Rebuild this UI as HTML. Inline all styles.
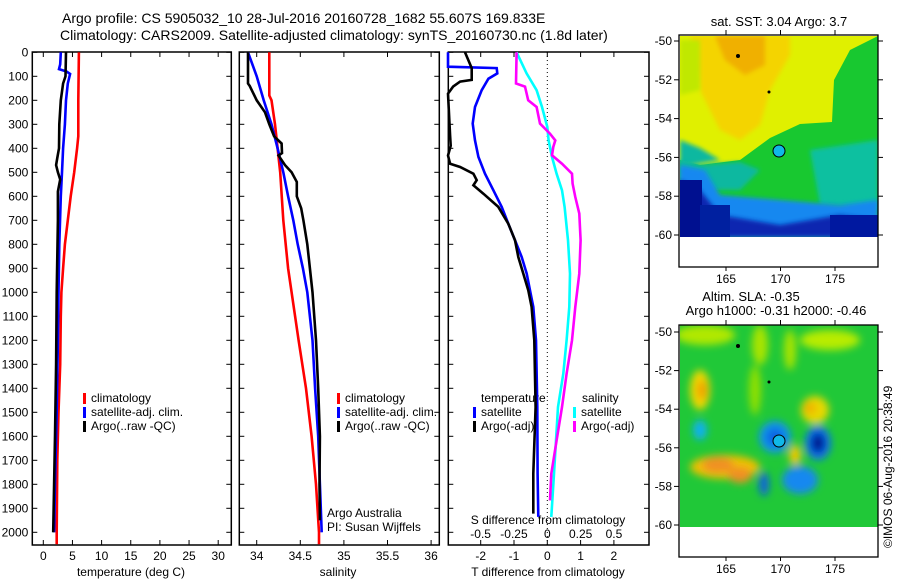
<!DOCTYPE html>
<html><head><meta charset="utf-8"><style>
html,body{margin:0;padding:0;background:#fff;}
svg{display:block;font-family:"Liberation Sans",sans-serif;}
text{font-size:12px;fill:#000;}
</style></head><body>
<svg id="chart" width="900" height="580" viewBox="0 0 900 580">
<defs>
<filter id="blur" x="-20%" y="-20%" width="140%" height="140%"><feGaussianBlur stdDeviation="4"/></filter>
<filter id="blur2" x="-20%" y="-20%" width="140%" height="140%"><feGaussianBlur stdDeviation="2"/></filter>
<clipPath id="c1"><rect x="680" y="36" width="198" height="201"/></clipPath>
<clipPath id="c2"><rect x="680" y="325" width="198" height="202"/></clipPath>
</defs>
<text x="62" y="23" style="font-size:14px">Argo profile: CS 5905032_10 28-Jul-2016 20160728_1682 55.607S 169.833E</text>
<text x="60" y="40" style="font-size:14px">Climatology: CARS2009. Satellite-adjusted climatology: synTS_20160730.nc (1.8d later)</text>
<g id="plots"></g>

<!-- SST map -->
<g>
<text x="779" y="26" text-anchor="middle" style="font-size:13px">sat. SST: 3.04  Argo: 3.7</text>
<g clip-path="url(#c1)">
<rect x="680" y="36" width="198" height="201" fill="#e0f000"/>
<polygon points="690,36 790,36 790,55 770,90 760,125 740,140 720,130 700,90 695,60" fill="#f4d400" filter="url(#blur2)"/>
<polygon points="715,36 765,36 765,65 745,75 725,60" fill="#f0b000" filter="url(#blur2)"/>
<polygon points="680,40 700,40 700,90 680,95" fill="#c0e800" filter="url(#blur2)"/>
<polygon points="878,36 878,237 680,237 680,160 700,165 740,160 770,138 800,124 832,122 834,80 850,50" fill="#18c830"/>
<polygon points="680,140 700,148 720,160 690,165 680,165" fill="#10b8a0" filter="url(#blur2)"/>
<polygon points="680,160 700,165 740,162 760,170 740,190 700,190 680,195" fill="#10b8a0" filter="url(#blur2)"/>
<polygon points="810,150 878,140 878,210 820,205" fill="#10c0a0" filter="url(#blur2)"/>
<polygon points="680,165 705,170 720,195 780,200 840,205 878,200 878,237 680,237" fill="#1488f0" filter="url(#blur2)"/>
<polygon points="680,180 700,190 720,215 780,225 810,220 840,215 878,220 878,237 680,237" fill="#0828b0" filter="url(#blur2)"/>
<rect x="680" y="180" width="22" height="57" fill="#001090"/>
<rect x="700" y="205" width="30" height="32" fill="#0020a0"/>
<rect x="830" y="215" width="48" height="22" fill="#0018a0"/>
</g>
<circle cx="779" cy="151" r="6" fill="#10b8e8" stroke="#000" stroke-width="1"/>
<circle cx="769" cy="92" r="1.5" fill="#000"/>
<circle cx="738" cy="56" r="2" fill="#000"/>
</g>
<g id="map1axes"></g>

<!-- SLA map -->
<g>
<text x="751" y="301" text-anchor="middle" style="font-size:13px">Altim. SLA: -0.35</text>
<text x="776" y="315" text-anchor="middle" style="font-size:13px">Argo h1000: -0.31 h2000: -0.46</text>
<g clip-path="url(#c2)">
<rect x="680" y="325" width="198" height="202" fill="#20c838"/>
<g filter="url(#blur)">
<ellipse cx="705" cy="335" rx="30" ry="10" fill="#b0e800"/>
<ellipse cx="760" cy="345" rx="8" ry="20" fill="#a8e400"/>
<ellipse cx="790" cy="350" rx="6" ry="20" fill="#a8e400"/>
<ellipse cx="830" cy="340" rx="30" ry="10" fill="#b8ec00"/>
<ellipse cx="755" cy="390" rx="6" ry="25" fill="#90e000"/>
<ellipse cx="700" cy="390" rx="10" ry="20" fill="#f0d800"/>
<ellipse cx="702" cy="390" rx="5" ry="10" fill="#f0a000"/>
<ellipse cx="815" cy="410" rx="14" ry="14" fill="#e8d800"/>
<ellipse cx="810" cy="408" rx="6" ry="6" fill="#f0b000"/>
<ellipse cx="700" cy="430" rx="7" ry="10" fill="#10b0f0"/>
<ellipse cx="725" cy="467" rx="35" ry="12" fill="#f0c000"/>
<ellipse cx="718" cy="465" rx="16" ry="8" fill="#f09020"/>
<ellipse cx="740" cy="475" rx="12" ry="8" fill="#f09020"/>
<ellipse cx="775" cy="437" rx="16" ry="16" fill="#1090f0"/>
<ellipse cx="775" cy="437" rx="8" ry="8" fill="#1060e0"/>
<ellipse cx="818" cy="443" rx="13" ry="17" fill="#1070f0"/>
<ellipse cx="818" cy="443" rx="7" ry="10" fill="#001890"/>
<ellipse cx="800" cy="480" rx="18" ry="14" fill="#1488f0"/>
<ellipse cx="764" cy="484" rx="5" ry="12" fill="#1060e0"/>
<ellipse cx="795" cy="455" rx="6" ry="10" fill="#f0c800"/>
</g>
</g>
<circle cx="779" cy="441" r="6" fill="#10b8e8" stroke="#000" stroke-width="1"/>
<circle cx="769" cy="382" r="1.5" fill="#000"/>
<circle cx="738" cy="346" r="2" fill="#000"/>
<text transform="translate(892,548) rotate(-90)" style="font-size:12px">©IMOS 06-Aug-2016 20:38:49</text>
</g>
<g id="map2axes"></g>
</svg>
<script>
// ---- data ----
const tempDepth = [0,200,350,400,500,600,700,800,900,1000,1100,1300,1500,1700,2000,2050];
const tempClim  = [6.1,6.0,6.0,5.8,5.3,4.7,4.2,3.7,3.4,3.1,3.0,2.9,2.6,2.4,2.3,2.3];
const tempSatDepth = [0,50,70,80,90,130,200,300,400,500,600,800,1000,1200,1500,1800,2000];
const tempSat      = [3.0,2.9,2.7,4.0,4.6,4.2,3.9,3.7,3.4,3.2,3.0,2.75,2.6,2.5,2.3,2.0,1.85];
const tempArgoDepth = [0,100,130,200,300,400,440,470,500,530,580,700,1000,1300,1600,1800,2000];
const tempArgo      = [3.9,3.8,3.4,3.0,2.75,2.7,2.4,2.2,2.5,2.9,2.5,2.5,2.3,2.2,2.0,1.85,1.7];

const salClimDepth = [0,180,200,300,400,500,700,900,1000,1200,1400,1600,1800,2000,2050];
const salClim      = [34.145,34.145,34.17,34.21,34.24,34.27,34.305,34.36,34.40,34.48,34.565,34.63,34.68,34.715,34.715];
const salSatDepth = [0,100,200,300,400,500,600,700,800,900,1000,1200,1400,1600,1800,2000];
const salSat      = [33.90,34.0,34.08,34.17,34.24,34.305,34.36,34.42,34.47,34.53,34.58,34.64,34.67,34.705,34.725,34.745];
const salArgoDepth = [0,130,140,200,250,300,350,380,420,430,470,500,540,600,650,700,800,900,1000,1200,1400,1600,1800,1950];
const salArgo      = [33.90,33.90,33.92,34.0,34.095,34.145,34.2,34.285,34.29,34.25,34.325,34.40,34.46,34.46,34.51,34.535,34.58,34.61,34.64,34.68,34.705,34.725,34.72,34.725];

const dTSatDepth = [0,60,66,88,110,158,228,297,367,436,506,575,644,714,783,853,922,992,1061,1200,1478,1756,1936];
const dTSat      = [-3.2,-3.2,-1.52,-1.5,-1.77,-1.97,-2.17,-2.24,-2.17,-2.07,-1.87,-1.62,-1.37,-1.17,-0.97,-0.77,-0.62,-0.52,-0.42,-0.34,-0.30,-0.29,-0.27];
const dTArgoDepth = [0,66,115,122,143,172,347,389,430,464,478,506,533,554,589,644,714,783,853,922,992,1061,1200,1478,1756,1922];
const dTArgo      = [-2.47,-2.27,-2.27,-2.62,-2.83,-3.2,-2.92,-2.9,-3.1,-2.92,-2.62,-2.22,-2.12,-2.22,-1.92,-1.47,-1.17,-0.97,-0.87,-0.72,-0.57,-0.47,-0.39,-0.35,-0.42,-0.42];
const dSSatDepth = [0,88,158,228,311,367,436,506,575,644,783,922,1061,1200,1339,1478,1617,1756,1936];
const dSSat      = [-0.23,-0.155,-0.08,-0.04,0.0,0.01,0.035,0.07,0.11,0.13,0.155,0.17,0.165,0.145,0.12,0.08,0.065,0.05,0.03];
const dSArgoDepth = [0,130,143,200,228,297,339,367,394,429,464,506,547,603,672,783,922,1061,1200,1339,1478,1617,1756,1867];
const dSArgo      = [-0.23,-0.235,-0.167,-0.143,-0.08,-0.055,0.02,0.06,0.045,0.035,0.11,0.185,0.19,0.21,0.24,0.25,0.24,0.21,0.185,0.145,0.11,0.07,0.03,0.02];

const depthTicks = [0,100,200,300,400,500,600,700,800,900,1000,1100,1200,1300,1400,1500,1600,1700,1800,1900,2000];
const tempTicks = [0,5,10,15,20,25,30];
const salTicks = [34,34.5,35,35.5,36];
const salTickLabels = ["34","34.5","35","35.5","36"];
const dTTicks = [-2,-1,0,1,2];
const dSTicks = [-0.5,-0.25,0,0.25,0.5];
const dSTickLabels = ["-0.5","-0.25","0","0.25","0.5"];
const latTicks = [-50,-52,-54,-56,-58,-60];
const lonTicks = [165,170,175];

// ---- scales ----
const TOP=52, BOT=545;
const yD = d => 52.3 + d*0.24;
const xT = t => 43.3 + t*5.83;
const xS = s => 256.7 + (s-34)*87.2;
const xdT = t => 547.3 + t*33.3;
const xdS = s => 547.3 + s*133.3;
const NS='http://www.w3.org/2000/svg';
const root = document.getElementById('plots');
function el(tag, attrs, parent, txt){
  const e=document.createElementNS(NS,tag);
  for(const k in attrs) e.setAttribute(k,attrs[k]);
  if(txt!==undefined) e.textContent=txt;
  (parent||root).appendChild(e); return e;
}
function clamp(v,a,b){return Math.max(a,Math.min(b,v));}
function line(depths, vals, xf, color, name, x0, x1){
  let pts=[];
  for(let i=0;i<vals.length;i++){
    const x=clamp(xf(vals[i]),x0,x1);
    pts.push(x.toFixed(1)+','+yD(depths[i]).toFixed(1));
  }
  const p=el('polyline',{points:pts.join(' '),fill:'none',stroke:color,'stroke-width':2.6,'stroke-linejoin':'miter'});
  
  
}
function panel(x0,x1,name,ylabels){
  const g=el('g',{});
  
  
  el('rect',{x:x0,y:TOP,width:x1-x0,height:BOT-TOP,fill:'none',stroke:'#000','stroke-width':1.5},g);
  depthTicks.forEach(d=>{
    const y=yD(d);
    el('line',{x1:x0,y1:y,x2:x0+5,y2:y,stroke:'#000'},g);
    el('line',{x1:x1-5,y1:y,x2:x1,y2:y,stroke:'#000'},g);
    if(ylabels){
      const t=el('text',{x:x0-4,y:y+4,'text-anchor':'end'},g,String(d));
      
      
    }
  });
  return g;
}
function xticks(g,ticks,labels,xf,y){
  ticks.forEach((v,i)=>{
    const x=xf(v);
    el('line',{x1:x,y1:TOP,x2:x,y2:TOP+5,stroke:'#000'},g);
    el('line',{x1:x,y1:BOT-5,x2:x,y2:BOT,stroke:'#000'},g);
    const t=el('text',{x:x,y:y,'text-anchor':'middle'},g,labels[i]);
    
    
  });
}
function legend(g,x,y,items){
  items.forEach((it,i)=>{
    const yy=y+i*14;
    if(it[0]) el('rect',{x:x,y:yy-9,width:3,height:11,fill:it[0]},g);
    const t=el('text',{x:x+(it[0]?8:0),y:yy},g,it[1]);
    
    
  });
}

// panel 1
let g1=panel(32.3,231.3,'temperature-panel',true);
xticks(g1,tempTicks,tempTicks.map(String),xT,560);
el('text',{x:131,y:576,'text-anchor':'middle'},g1,'temperature (deg C)');
line(tempDepth,tempClim,xT,'#ff0000','climatology-temp-line',32,231);
line(tempSatDepth,tempSat,xT,'#0000ff','satellite-temp-line',32,231);
line(tempArgoDepth,tempArgo,xT,'#000000','argo-temp-line',32,231);
legend(g1,83,402,[['#ff0000','climatology'],['#0000ff','satellite-adj. clim.'],['#000','Argo(..raw -QC)']]);

// panel 2
let g2=panel(239.3,439.3,'salinity-panel',false);
xticks(g2,salTicks,salTickLabels,xS,560);
el('text',{x:338,y:576,'text-anchor':'middle'},g2,'salinity');
line(salClimDepth,salClim,xS,'#ff0000','climatology-sal-line',240,439);
line(salSatDepth,salSat,xS,'#0000ff','satellite-sal-line',240,439);
line(salArgoDepth,salArgo,xS,'#000000','argo-sal-line',240,439);
legend(g2,337,402,[['#ff0000','climatology'],['#0000ff','satellite-adj. clim.'],['#000','Argo(..raw -QC)']]);
el('text',{x:327,y:517},g2,'Argo Australia');
el('text',{x:327,y:531},g2,'PI: Susan Wijffels');

// panel 3
let g3=panel(448.3,649,'difference-panel',false);
el('line',{x1:xdT(0),y1:TOP,x2:xdT(0),y2:BOT,stroke:'#000','stroke-dasharray':'1,3'},g3);
dTTicks.forEach(v=>{const x=xdT(v);el('line',{x1:x,y1:TOP,x2:x,y2:TOP+5,stroke:'#000'},g3);el('line',{x1:x,y1:BOT-5,x2:x,y2:BOT,stroke:'#000'},g3);
  const t=el('text',{x:x,y:560,'text-anchor':'middle'},g3,String(v));});
line(dTSatDepth,dTSat,xdT,'#0000ff','satellite-temp-diff-line',448,649);
line(dTArgoDepth,dTArgo,xdT,'#000000','argo-temp-diff-line',448,649);
line(dSSatDepth,dSSat,xdS,'#00ffff','satellite-sal-diff-line',448,649);
line(dSArgoDepth,dSArgo,xdS,'#ff00ff','argo-sal-diff-line',448,649);
dSTicks.forEach((v,i)=>{const t=el('text',{x:xdS(v),y:538,'text-anchor':'middle'},g3,dSTickLabels[i]);});
el('text',{x:548,y:524,'text-anchor':'middle'},g3,'S difference from climatology');
el('text',{x:548,y:576,'text-anchor':'middle'},g3,'T difference from climatology');
legend(g3,481,402,[[null,'temperature']]);
legend(g3,473,416,[['#0000ff','satellite'],['#000','Argo(-adj)']]);
legend(g3,582,402,[[null,'salinity']]);
legend(g3,573,416,[['#00ffff','satellite'],['#ff00ff','Argo(-adj)']]);

// map axes
function mapAxes(id,y0,y1,latY){
  const g=document.getElementById(id);
  const lonX = l => 726 + (l-165)*10.9;
  el('rect',{x:679,y:y0,width:199,height:y1-y0,fill:'none',stroke:'#000','stroke-width':1.3},g);
  latTicks.forEach(l=>{const y=latY(l);
    el('line',{x1:679,y1:y,x2:674,y2:y,stroke:'#000'},g);
    el('line',{x1:878,y1:y,x2:883,y2:y,stroke:'#000'},g);
    const t=el('text',{x:672,y:y+4,'text-anchor':'end'},g,String(l));});
  lonTicks.forEach(l=>{const x=lonX(l);
    el('line',{x1:x,y1:y0,x2:x,y2:y0-5,stroke:'#000'},g);
    el('line',{x1:x,y1:y1,x2:x,y2:y1+4,stroke:'#000'},g);
    const t=el('text',{x:x,y:y1+16,'text-anchor':'middle'},g,String(l));});
}
mapAxes('map1axes',35,267,l=>41+(-50-l)*19.4);
mapAxes('map2axes',325,557,l=>332+(-50-l)*19.3);
</script>
</body></html>
